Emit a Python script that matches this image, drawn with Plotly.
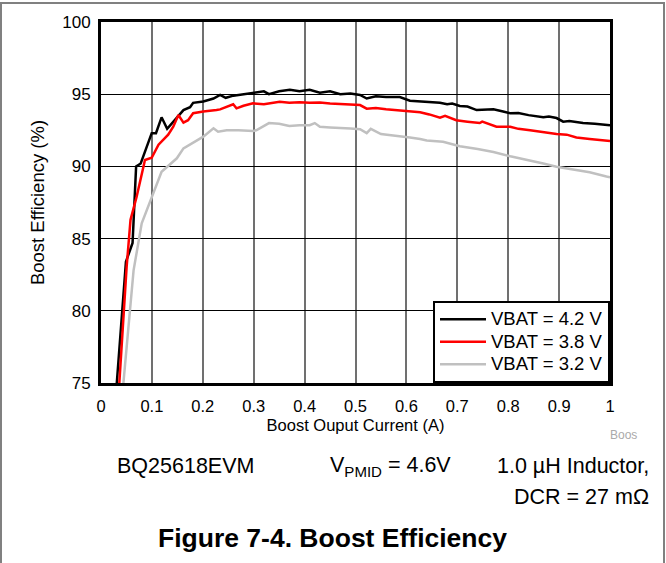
import plotly.graph_objects as go

# ---- data ----
x_42 = [0.031, 0.049, 0.062, 0.069, 0.078, 0.0996, 0.108, 0.119, 0.130, 0.152, 0.162, 0.175, 0.181,
        0.201, 0.221, 0.234, 0.245, 0.26, 0.28, 0.299, 0.32, 0.33, 0.35, 0.371, 0.39, 0.41, 0.43,
        0.45, 0.47, 0.49, 0.509, 0.522, 0.54, 0.56, 0.587, 0.607, 0.627, 0.645, 0.666, 0.68, 0.69,
        0.705, 0.72, 0.738, 0.755, 0.771, 0.79, 0.804, 0.82, 0.84, 0.869, 0.88, 0.895, 0.908, 0.92,
        0.947, 0.97, 1.0]
y_42 = [75.0, 83.4, 84.7, 90.0, 90.2, 92.3, 92.3, 93.4, 92.6, 93.5, 93.9, 94.1, 94.4,
        94.5, 94.7, 94.95, 94.75, 94.9, 95.0, 95.1, 95.2, 95.0, 95.2, 95.3, 95.2, 95.3, 95.1,
        95.2, 95.0, 95.05, 94.95, 94.7, 94.85, 94.8, 94.8, 94.55, 94.5, 94.45, 94.4, 94.3, 94.35,
        94.18, 94.15, 93.9, 93.95, 93.95, 93.8, 93.68, 93.7, 93.55, 93.4, 93.45, 93.35, 93.1, 93.15,
        93.0, 92.95, 92.85]

x_38 = [0.036, 0.0426, 0.0504, 0.058, 0.070, 0.0864, 0.0996, 0.113, 0.132, 0.142, 0.152, 0.162,
        0.171, 0.181, 0.201, 0.227, 0.234, 0.2597, 0.2662, 0.28, 0.2986, 0.32, 0.335, 0.351, 0.37,
        0.39, 0.41, 0.43, 0.45, 0.47, 0.49, 0.509, 0.522, 0.54, 0.56, 0.587, 0.607, 0.627, 0.645,
        0.666, 0.676, 0.698, 0.72, 0.744, 0.749, 0.777, 0.804, 0.82, 0.843, 0.87, 0.895, 0.915,
        0.934, 0.96, 0.993, 1.0]
y_38 = [75.0, 78.9, 83.05, 86.3, 87.9, 90.44, 90.6, 91.5, 92.2, 92.75, 93.56, 93.03,
        93.2, 93.68, 93.8, 93.9, 93.95, 94.3, 94.02, 94.2, 94.37, 94.3, 94.4, 94.48, 94.4,
        94.45, 94.4, 94.42, 94.35, 94.3, 94.28, 94.25, 94.0, 94.05, 93.95, 93.86, 93.8, 93.75, 93.6,
        93.37, 93.5, 93.2, 93.1, 93.0, 93.1, 92.75, 92.75, 92.6, 92.5, 92.35, 92.24, 92.2,
        92.0, 91.9, 91.76, 91.75]

x_32 = [0.044, 0.064, 0.080, 0.0996, 0.119, 0.149, 0.162, 0.201, 0.221, 0.23, 0.247, 0.27, 0.299,
        0.305, 0.33, 0.35, 0.37, 0.39, 0.41, 0.42, 0.43, 0.45, 0.47, 0.49, 0.509, 0.522, 0.53,
        0.55, 0.57, 0.587, 0.607, 0.627, 0.64, 0.672, 0.69, 0.705, 0.74, 0.771, 0.804, 0.84,
        0.869, 0.895, 0.934, 0.96, 0.993, 1.0]
y_32 = [75.0, 82.8, 86.06, 87.9, 89.63, 90.56, 91.25, 92.06, 92.64, 92.4, 92.5, 92.5, 92.45,
        92.5, 93.0, 92.95, 92.8, 92.85, 92.85, 93.0, 92.75, 92.7, 92.68, 92.62, 92.57, 92.3, 92.6,
        92.24, 92.15, 92.1, 92.0, 91.9, 91.8, 91.7, 91.55, 91.4, 91.2, 91.0, 90.7, 90.45,
        90.2, 89.98, 89.75, 89.6, 89.3, 89.25]

series_names = ["VBAT = 4.2 V", "VBAT = 3.8 V", "VBAT = 3.2 V"]
series_colors = ["#000000", "#ff0000", "#c0c0c0"]

x_ticks = [0, 0.1, 0.2, 0.3, 0.4, 0.5, 0.6, 0.7, 0.8, 0.9, 1.0]
x_tick_labels = ["0", "0.1", "0.2", "0.3", "0.4", "0.5", "0.6", "0.7", "0.8", "0.9", "1"]
y_ticks = [75, 80, 85, 90, 95, 100]
y_tick_labels = ["75", "80", "85", "90", "95", "100"]

FONT = "Liberation Sans, Arial, sans-serif"

fig = go.Figure()
for xs, ys, nm, col in zip([x_42, x_38, x_32], [y_42, y_38, y_32], series_names, series_colors):
    fig.add_trace(go.Scatter(x=xs, y=ys, mode="lines",
                             name="<span style='font-size:18.5px'>" + nm + "</span>",
                             line=dict(color=col, width=2.5)))

# plot area in pixels: x 101..610, y 22..383
W, H = 666, 563
L, R, T, B = 101, 610, 22, 383
pw, ph = R - L, B - T

def px(x):
    return (x - L) / pw

def py(y):
    return (B - y) / ph

fig.update_layout(
    width=W, height=H,
    margin=dict(l=L, r=W - R, t=T, b=H - B, pad=0),
    paper_bgcolor="white", plot_bgcolor="white",
    font=dict(family=FONT, color="#000", size=16),
    showlegend=True,
    legend=dict(x=1, y=0, xanchor="right", yanchor="bottom",
                bordercolor="#000", borderwidth=2, bgcolor="white",
                font=dict(size=15, family=FONT), tracegroupgap=0,
                itemwidth=46),
    xaxis=dict(range=[0, 1], tickvals=x_ticks, ticktext=x_tick_labels,
               showgrid=True, gridcolor="#707070", gridwidth=1.5,
               showline=True, linecolor="#000", linewidth=3, mirror=True,
               ticks="", zeroline=False, tickfont=dict(size=16.5), ticklabelstandoff=6,
               title=dict(text="Boost Ouput Current (A)", font=dict(size=16.5), standoff=6)),
    yaxis=dict(range=[75, 100], tickvals=y_ticks, ticktext=y_tick_labels,
               showgrid=True, gridcolor="#000", gridwidth=1,
               showline=True, linecolor="#000", linewidth=3, mirror=True,
               ticks="", zeroline=False, tickfont=dict(size=17), ticklabelstandoff=4,
               title=dict(text="Boost Efficiency (%)", font=dict(size=18.5), standoff=13)),
)

annots = [
    dict(text="Boos", x=px(623), y=py(435), font=dict(size=12, color="#aaaaaa"), xanchor="center"),
    dict(text="BQ25618EVM", x=px(115), y=py(466), font=dict(size=21.5), xanchor="left"),
    dict(text="V<sub>PMID</sub> = 4.6V", x=px(328), y=py(466), font=dict(size=21.5), xanchor="left"),
    dict(text="1.0 µH Inductor,", x=px(651), y=py(466), font=dict(size=21.5), xanchor="right"),
    dict(text="DCR = 27 mΩ", x=px(651), y=py(497), font=dict(size=21.5), xanchor="right"),
    dict(text="<b>Figure 7-4. Boost Efficiency</b>", x=px(332), y=py(538), font=dict(size=26.5),
         xanchor="center"),
]
for a in annots:
    fig.add_annotation(xref="paper", yref="paper", showarrow=False, yanchor="middle",
                       x=a["x"], y=a["y"], text=a["text"], font=a["font"], xanchor=a["xanchor"])

# page border
fig.add_shape(type="rect", xref="paper", yref="paper",
              x0=px(1), x1=px(664), y0=py(580), y1=py(3),
              line=dict(color="#808080", width=2), fillcolor="rgba(0,0,0,0)", layer="below")

fig.write_html("out.html", config={"displayModeBar": False},
               post_script="document.body.style.margin='0';")
